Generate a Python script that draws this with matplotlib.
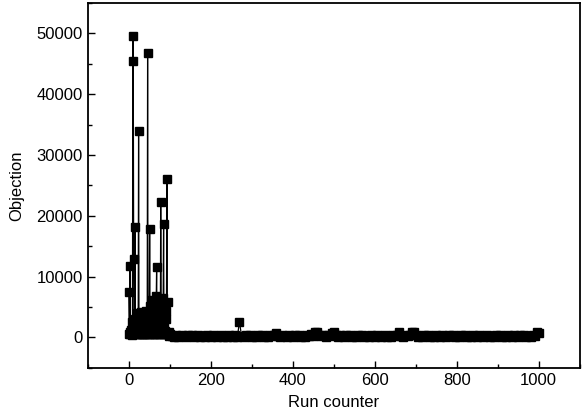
import matplotlib.pyplot as plt
from matplotlib.ticker import MultipleLocator

plt.rcParams['font.family'] = ['Liberation Sans', 'DejaVu Sans']

# first 100 runs, one value per run
early_runs = list(range(0, 100))
early_vals = [
    7400, 600, 900, 11800, 500, 1200, 700, 2500, 400, 800,
    49500, 45500, 12900, 700, 1500, 18100, 3000, 600, 900, 2200,
    500, 4000, 800, 1200, 33900, 600, 3500, 700, 1800, 500,
    4200, 900, 600, 2800, 500, 1400, 700, 3900, 600, 1000,
    500, 2600, 800, 4300, 600, 1500, 46700, 700, 3000, 500,
    1100, 17800, 600, 5100, 800, 2300, 500, 6200, 700, 1300,
    3400, 600, 900, 4300, 500, 2000, 700, 6800, 11600, 600,
    3700, 800, 5800, 500, 1600, 700, 2900, 600, 22300, 4600,
    700, 1200, 3300, 500, 6500, 18700, 600, 2400, 800, 1000,
    3100, 600, 4300, 26000, 700, 5900, 500, 900, 300, 400,
]

# later runs, read every 5 runs
late_runs = list(range(100, 1001, 5))
late_vals = [
    500, 300, 100, 400, 0, 300, 450, 200, 0, 400,
    200, 400, 0, 300, 450, 100, 300, 0, 400, 200,
    100, 400, 300, 0, 200, 450, 100, 300, 0, 400,
    200, 0, 400, 100, 2600, 300, 0, 400, 200, 450,
    100, 300, 0, 400, 200, 450, 100, 300, 0, 400,
    200, 450, 650, 300, 0, 400, 200, 100, 450, 300,
    0, 400, 200, 450, 100, 300, 0, 400, 200, 500,
    300, 850, 900, 450, 200, 400, 100, 450, 300, 800,
    850, 400, 100, 450, 300, 0, 400, 200, 450, 100,
    300, 0, 400, 200, 450, 100, 300, 0, 400, 200,
    100, 400, 300, 0, 200, 450, 100, 300, 0, 400,
    200, 450, 900, 300, 100, 400, 200, 450, 850, 850,
    400, 100, 300, 0, 400, 200, 450, 100, 300, 0,
    400, 200, 100, 450, 300, 0, 400, 200, 450, 100,
    300, 0, 400, 200, 450, 100, 300, 0, 400, 200,
    100, 400, 300, 0, 200, 450, 100, 300, 0, 400,
    200, 450, 100, 300, 0, 400, 200, 100, 450, 300,
    0, 400, 200, 450, 100, 300, 0, 400, 200, 900,
    800,
]

runs = early_runs + late_runs
vals = early_vals + late_vals

fig = plt.figure(figsize=(5.85, 4.18), dpi=100)
ax = fig.add_axes([0.150, 0.120, 0.841, 0.873])

ax.plot(runs, vals, color='black', lw=0.9, marker='s', markersize=5.5,
        markerfacecolor='black', markeredgecolor='black')

ax.set_xlim(-100, 1100)
ax.set_ylim(-5000, 55000)
ax.xaxis.set_major_locator(MultipleLocator(200))
ax.xaxis.set_minor_locator(MultipleLocator(100))
ax.yaxis.set_major_locator(MultipleLocator(10000))
ax.yaxis.set_minor_locator(MultipleLocator(5000))
ax.tick_params(which='both', direction='in', top=False, right=False,
               labelsize=12, width=1)
ax.tick_params(which='major', length=5)
ax.tick_params(which='minor', length=3)
for s in ax.spines.values():
    s.set_linewidth(1.3)

ax.set_xlabel('Run counter', fontsize=12, labelpad=5)
ax.set_ylabel('Objection', fontsize=12, labelpad=9)

fig.savefig('out.png')
